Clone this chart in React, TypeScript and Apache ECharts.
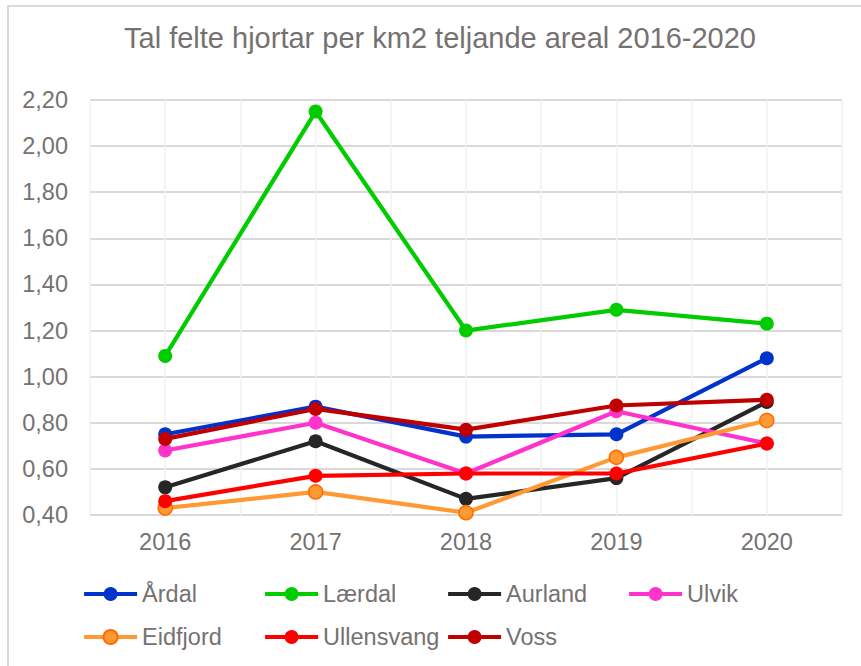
import React, { useEffect, useRef } from "react";
import * as echarts from "echarts";

const years = ["2016", "2017", "2018", "2019", "2020"];
const seriesNames = ["Årdal", "Lærdal", "Aurland", "Ulvik", "Eidfjord", "Ullensvang", "Voss"];
const aardal = [0.75, 0.87, 0.74, 0.75, 1.08];
const laerdal = [1.09, 2.15, 1.2, 1.29, 1.23];
const aurland = [0.52, 0.72, 0.47, 0.56, 0.89];
const ulvik = [0.68, 0.8, 0.58, 0.85, 0.71];
const eidfjord = [0.43, 0.5, 0.41, 0.65, 0.81];
const ullensvang = [0.46, 0.57, 0.58, 0.58, 0.71];
const voss = [0.73, 0.86, 0.77, 0.875, 0.9];
const yTicks = { min: 0.4, max: 2.2, interval: 0.2 };
const titleText = "Tal felte hjortar per km2 teljande areal 2016-2020";

const seriesData = [aardal, laerdal, aurland, ulvik, eidfjord, ullensvang, voss];
const colors = ["#0033CC", "#00CC00", "#262626", "#FF33CC", "#FF9933", "#FF0000", "#C00000"];
const borders = ["#0033CC", "#00CC00", "#262626", "#FF33CC", "#FF6A00", "#FF0000", "#C00000"];

const FONT = "'Liberation Sans', Arial, sans-serif";
const GRAY = "#767171";

export default function App() {
  const ref = useRef<HTMLDivElement>(null);
  useEffect(() => {
    if (!ref.current) return;
    const chart = echarts.init(ref.current, null, { renderer: "svg" });
    const legendPos = [
      [82, 582],
      [263, 582],
      [446, 582],
      [627, 582],
      [82, 625],
      [263, 625],
      [446, 625],
    ];
    chart.setOption({
      animation: false,
      backgroundColor: "#ffffff",
      graphic: [
        {
          type: "rect",
          shape: { x: 8, y: 6, width: 900, height: 700 },
          style: { fill: "none", stroke: "#D9D9D9", lineWidth: 2 },
          silent: true,
          z: -10,
        },
        {
          type: "text",
          x: 440,
          y: 38,
          style: {
            text: titleText,
            fontSize: 29,
            fontFamily: FONT,
            fill: GRAY,
            align: "center",
            verticalAlign: "middle",
          },
        },
      ],
      legend: seriesNames.map((n, i) => ({
        data: [n],
        left: legendPos[i][0],
        top: legendPos[i][1],
        padding: 0,
        itemWidth: 53,
        itemHeight: 17.5,
        itemGap: 0,
        selectedMode: false,
        lineStyle: { width: 4.2 },
        textStyle: { fontSize: 23.5, lineHeight: 24, color: GRAY, fontFamily: FONT },
      })),
      grid: { left: 90, right: 19, top: 100, bottom: 151, containLabel: false },
      xAxis: [
        {
          type: "category",
          data: years,
          boundaryGap: true,
          axisLine: { show: false },
          axisTick: { show: false },
          splitLine: { show: false },
          axisLabel: { fontSize: 23.5, color: GRAY, fontFamily: FONT, margin: 15 },
        },
        {
          type: "value",
          min: 0,
          max: 10,
          interval: 1,
          position: "bottom",
          axisLine: { show: false },
          axisTick: { show: false },
          axisLabel: { show: false },
          splitLine: { show: true, lineStyle: { color: "#F0F0F0", width: 1.5 } },
        },
      ],
      yAxis: {
        type: "value",
        min: yTicks.min,
        max: yTicks.max,
        interval: yTicks.interval,
        axisLine: { show: false },
        axisTick: { show: false },
        axisLabel: {
          fontSize: 23.5,
          color: GRAY,
          fontFamily: FONT,
          margin: 22,
          formatter: (v: number) => v.toFixed(2).replace(".", ","),
        },
        splitLine: { show: true, lineStyle: { color: "#D9D9D9", width: 2 } },
      },
      series: seriesNames.map((n, i) => ({
        name: n,
        type: "line",
        xAxisIndex: 0,
        data: seriesData[i],
        symbol: "circle",
        symbolSize: 14,
        lineStyle: { color: colors[i], width: 4.2 },
        itemStyle: {
          color: colors[i],
          borderColor: borders[i],
          borderWidth: i === 4 ? 1.5 : 0,
        },
        z: 2 + i,
      })),
    });
    return () => chart.dispose();
  }, []);
  return (
    <div
      ref={ref}
      style={{ position: "fixed", left: 0, top: 0, width: 861, height: 666, background: "#fff" }}
    />
  );
}
